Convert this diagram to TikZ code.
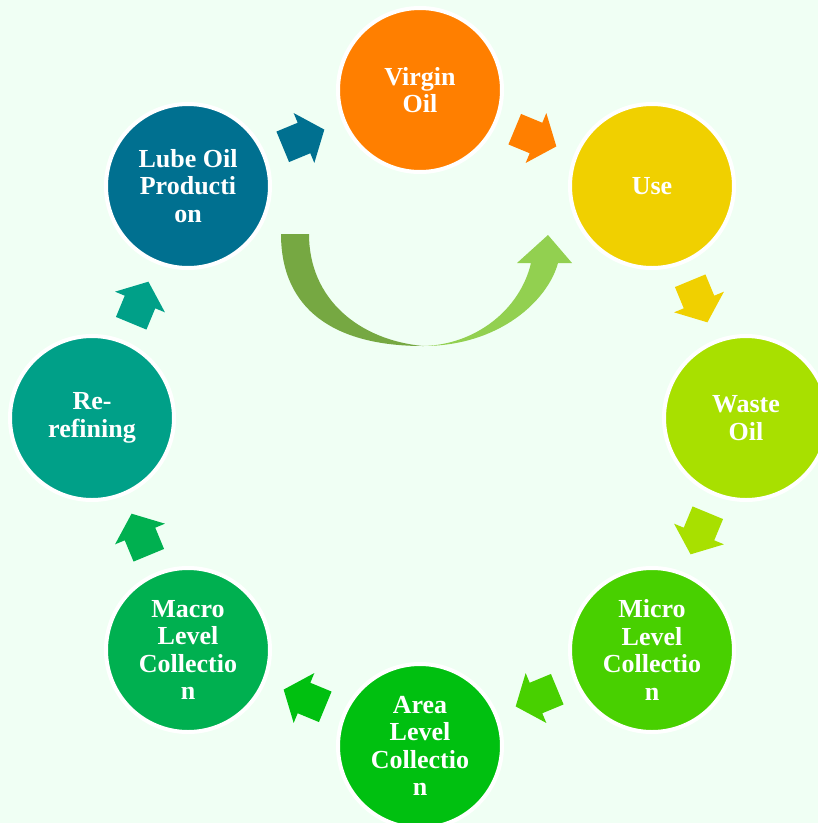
\documentclass[tikz,border=0pt]{standalone}
\usepackage{fontspec}
\setmainfont{Liberation Serif}
\usetikzlibrary{calc}
\definecolor{bgc}{HTML}{F0FFF4}
\definecolor{cvirgin}{HTML}{FF7F00}
\definecolor{cuse}{HTML}{F0D000}
\definecolor{cwaste}{HTML}{A8E000}
\definecolor{cmicro}{HTML}{48D000}
\definecolor{carea}{HTML}{00C010}
\definecolor{cmacro}{HTML}{00B050}
\definecolor{crere}{HTML}{00A088}
\definecolor{clube}{HTML}{007090}
\definecolor{curvL}{HTML}{76A842}
\definecolor{curvR}{HTML}{92D050}
\tikzset{
  bub/.style={circle, draw=white, line width=4pt, minimum size=164pt, inner sep=0pt,
    align=center, text=white, font=\bfseries\fontsize{26}{27.5}\selectfont},
  blockarrow/.pic={\fill (-23,-16.5) -- (0,-16.5) -- (0,-27) -- (22,0) -- (0,27) -- (0,16.5) -- (-23,16.5) -- cycle;}
}
\begin{document}
\begin{tikzpicture}[x=1pt,y=-1pt]
\fill[bgc] (0,0) rectangle (818,823);
\useasboundingbox (0,0) rectangle (818,823);
\clip (0,0) rectangle (818,823);
% circles
\node[bub, fill=cvirgin] (virgin) at (420,90) {Virgin\\Oil};
\node[bub, fill=cuse] (use) at (652,186) {Use};
\node[bub, fill=cwaste] (waste) at (746,418) {Waste\\Oil};
\node[bub, fill=cmicro] (micro) at (652,650) {Micro\\Level\\Collectio\\n};
\node[bub, fill=carea] (area) at (420,746) {Area\\Level\\Collectio\\n};
\node[bub, fill=cmacro] (macro) at (188,650) {Macro\\Level\\Collectio\\n};
\node[bub, fill=crere] (rere) at (92,418) {Re-\\refining};
\node[bub, fill=clube] (lube) at (188,186) {Lube Oil\\Producti\\on};
% block arrows
\pic[clube, shift={($(lube)!0.5!(virgin)$)}, rotate=22.5] {blockarrow};
\pic[cvirgin, shift={($(virgin)!0.5!(use)$)}, rotate=-22.5] {blockarrow};
\pic[cuse, shift={($(use)!0.5!(waste)$)}, rotate=-67.5] {blockarrow};
\pic[cwaste, shift={($(waste)!0.5!(micro)$)}, rotate=-112.5] {blockarrow};
\pic[cmicro, shift={($(micro)!0.5!(area)$)}, rotate=-157.5] {blockarrow};
\pic[carea, shift={($(area)!0.5!(macro)$)}, rotate=157.5] {blockarrow};
\pic[cmacro, shift={($(macro)!0.5!(rere)$)}, rotate=112.5] {blockarrow};
\pic[crere, shift={($(rere)!0.5!(lube)$)}, rotate=67.5] {blockarrow};
% curved arrow
\coordinate (cbot) at (423,346);
\fill[curvL] (281,234) .. controls (281,310) and (335,346) .. (cbot)
  .. controls (360,340) and (309,300) .. (309,234) -- cycle;
\fill[curvR] (cbot) .. controls (500,346) and (548,300) .. (558,263)
  -- (572,263) -- (548,235) -- (517,263) -- (531,263)
  .. controls (520,310) and (475,345) .. (cbot) -- cycle;
\end{tikzpicture}
\end{document}
